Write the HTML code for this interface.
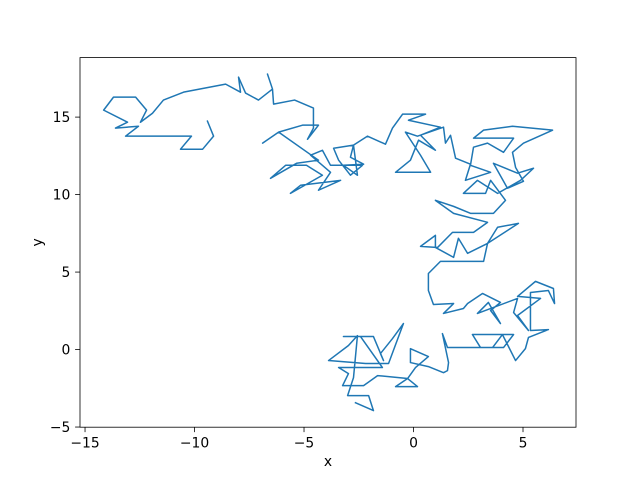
<!DOCTYPE html>
<html><head><meta charset="utf-8"><style>
html,body{margin:0;padding:0;background:#fff;}
svg{display:block;font-family:"DejaVu Sans","Liberation Sans",sans-serif;}
</style></head><body>
<svg id="chart" width="640" height="480" viewBox="0 0 640 480">
<rect x="0" y="0" width="640" height="480" fill="#fff"/>
<g id="plot"></g>
</svg>
<script>
const xTicks = [-15, -10, -5, 0, 5];
const yTicks = [-5, 0, 5, 10, 15];
const xs = [-9.41,-9.13,-9.63,-10.64,-10.14,-13.15,-12.56,-13.61,-13.06,-14.15,-13.70,-12.69,-12.19,-12.47,-11.92,-11.42,-10.50,-8.58,-7.90,-7.99,-7.67,-7.08,-6.44,-6.67,-6.44,-6.39,-5.43,-4.57,-4.57,-4.84,-4.34,-5.07,-6.16,-6.89,-6.16,-4.34,-5.34,-6.53,-5.84,-4.89,-4.16,-5.62,-5.16,-3.33,-4.34,-3.79,-4.70,-4.16,-3.79,-2.33,-2.88,-3.42,-3.65,-2.74,-2.88,-2.28,-3.20,-2.56,-2.74,-2.10,-1.28,-0.96,-0.50,0.55,-0.23,1.23,0.32,1.00,0.23,-0.14,-0.82,0.78,0.32,-0.37,0.18,1.37,1.46,1.69,1.92,2.60,2.37,3.52,2.60,2.74,3.38,4.11,4.57,2.74,3.20,4.52,6.35,5.02,4.52,4.66,5.02,4.29,3.65,4.75,5.48,4.89,3.84,2.92,2.28,3.29,3.52,4.20,3.65,2.60,1.83,1.00,1.83,3.38,2.74,1.78,1.10,0.32,1.00,1.00,1.83,2.05,2.47,3.38,3.84,4.79,3.38,3.20,1.23,0.68,0.68,0.91,1.83,1.37,2.28,2.47,3.15,3.97,3.52,3.97,3.42,2.92,4.75,4.57,5.25,4.75,5.80,4.75,5.57,6.39,6.44,6.16,5.34,5.34,6.16,5.25,5.11,4.66,4.06,3.61,3.06,2.69,4.57,4.11,1.55,1.32,1.60,1.55,1.37,0.68,-0.14,-0.14,0.68,0.09,-0.27,0.18,-0.82,-0.27,-1.64,-2.28,-3.24,-2.97,-3.42,-1.42,-2.42,-3.20,-1.83,-1.37,-1.51,-0.96,-0.46,-1.14,-2.19,-3.88,-2.97,-2.56,-2.74,-3.01,-2.05,-1.83,-2.65];
const ys = [14.74,13.77,12.93,12.93,13.77,13.77,14.41,14.29,14.67,15.45,16.29,16.29,15.45,14.67,15.25,16.10,16.61,17.13,16.61,17.58,16.55,16.10,16.81,17.78,16.81,15.84,16.10,15.58,14.29,13.57,14.48,14.48,14.03,13.32,14.03,12.22,12.02,11.05,11.89,11.89,11.25,10.08,10.60,10.92,10.28,11.44,12.54,12.86,11.89,11.89,11.25,12.22,12.99,13.19,12.41,11.96,11.89,11.25,13.19,13.77,13.25,14.29,15.19,15.19,14.80,14.35,13.83,12.86,13.51,12.22,11.44,11.44,12.54,14.03,13.77,14.35,13.32,13.83,12.35,11.96,10.92,11.44,11.89,13.06,13.32,12.73,13.64,13.64,14.16,14.41,14.16,13.32,12.73,11.76,10.86,10.41,12.02,11.38,11.70,10.92,10.08,10.92,10.08,10.08,10.92,9.63,8.79,8.79,9.24,9.63,8.79,8.21,7.56,7.56,6.59,6.66,7.37,6.59,5.95,7.18,6.21,6.85,7.89,8.14,6.85,5.69,5.69,4.91,3.81,2.91,2.97,2.33,2.65,2.97,3.62,3.04,2.52,1.68,3.04,2.33,3.30,2.39,1.23,2.20,3.30,3.43,4.40,3.94,2.97,3.81,3.68,1.23,1.29,0.78,0.06,-0.71,0.97,0.13,0.13,0.97,0.97,0.13,0.13,1.03,-0.84,-1.36,-1.49,-1.10,-0.84,0.06,-0.45,-1.16,-1.87,-2.39,-2.39,-1.87,-1.68,-2.33,-2.33,-1.55,-1.16,-1.16,0.84,0.84,0.84,-0.71,-0.26,0.71,1.68,-0.90,-0.90,-0.71,0.26,0.90,-1.81,-2.97,-2.97,-3.94,-3.43];

const L = 80, T = 57.6, W = 496, H = 369.6;
const xMin = -15.23, xMax = 7.42, yMin = -5.01, yMax = 18.84;
const sx = v => L + (v - xMin) / (xMax - xMin) * W;
const sy = v => T + H - (v - yMin) / (yMax - yMin) * H;
const NS = 'http://www.w3.org/2000/svg';
const g = document.getElementById('plot');
function mk(tag, attrs) { const e = document.createElementNS(NS, tag); for (const k in attrs) e.setAttribute(k, attrs[k]); g.appendChild(e); return e; }

let d = '';
for (let i = 0; i < xs.length; i++) d += (i ? 'L' : 'M') + sx(xs[i]).toFixed(2) + ' ' + sy(ys[i]).toFixed(2);
const line = mk('path', {d: d, fill: 'none', stroke: '#1f77b4', 'stroke-width': 1.5, 'stroke-linejoin': 'round', 'stroke-linecap': 'square'});



const frame = mk('rect', {x: L, y: T, width: W, height: H, fill: 'none', stroke: '#000', 'stroke-width': 0.8});



xTicks.forEach(t => {
  const x = sx(t);
  const tk = mk('line', {x1: x, x2: x, y1: T + H, y2: T + H + 4.9, stroke: '#000', 'stroke-width': 0.8});
  
  
  const lb = mk('text', {x: x, y: T + H + 20.5, 'text-anchor': 'middle', 'font-size': 13.9, fill: '#000'});
  lb.textContent = t < 0 ? '\u2212' + Math.abs(t) : String(t);
  
  
});
yTicks.forEach(t => {
  const y = sy(t);
  const tk = mk('line', {x1: L - 4.9, x2: L, y1: y, y2: y, stroke: '#000', 'stroke-width': 0.8});
  
  
  const lb = mk('text', {x: L - 9.7, y: y + 5, 'text-anchor': 'end', 'font-size': 13.9, fill: '#000'});
  lb.textContent = t < 0 ? '\u2212' + Math.abs(t) : String(t);
  
  
});
const xl = mk('text', {x: L + W / 2, y: 466, 'text-anchor': 'middle', 'font-size': 13.9, fill: '#000'});
xl.textContent = 'x';


const yl = mk('text', {x: 0, y: 0, 'text-anchor': 'middle', 'font-size': 13.9, fill: '#000', transform: 'translate(42,' + (T + H / 2) + ') rotate(-90)'});
yl.textContent = 'y';


</script>
</body></html>
